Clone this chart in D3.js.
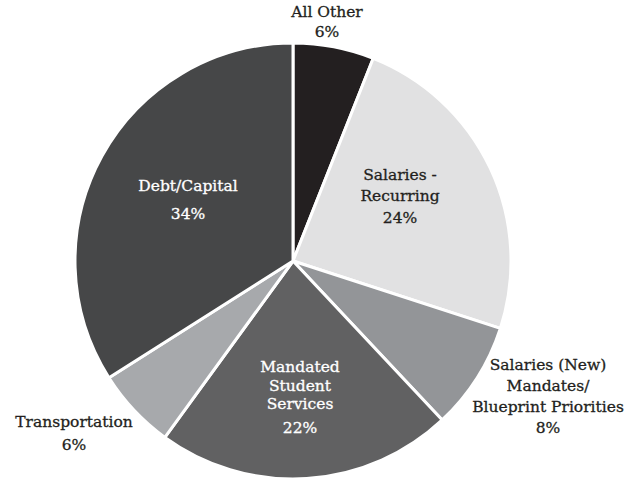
<!DOCTYPE html>
<html>
<head>
<meta charset="utf-8">
<script src="https://cdn.jsdelivr.net/npm/d3@7"></script>
<style>
  body { margin: 0; background: #fff; }
  svg { display: block; }
  text { font-family: "DejaVu Serif", "Liberation Serif", serif; font-size: 15.5px; }
</style>
</head>
<body>
<svg id="chart" width="641" height="478"></svg>
<script>
// slices clockwise from 12 o'clock
var categories = ["All Other", "Salaries - Recurring", "Salaries (New) Mandates/ Blueprint Priorities",
                  "Mandated Student Services", "Transportation", "Debt/Capital"];
var values = [6, 24, 8, 22, 6, 34];
var labelLines = [
    ["All Other", "6%"],
    ["Salaries -", "Recurring", "24%"],
    ["Salaries (New)", "Mandates/", "Blueprint Priorities", "8%"],
    ["Mandated", "Student", "Services", "22%"],
    ["Transportation", "6%"],
    ["Debt/Capital", "34%"]
];

var fills = ["#231f20", "#e1e1e2", "#939598", "#616162", "#a7a9ac", "#464748"];
var textFill = ["#231f20", "#231f20", "#231f20", "#ffffff", "#231f20", "#ffffff"];
// label anchor (first line baseline) relative to pie centre, and line gaps
var labelAt = [
    { x: 34, y: -244, gap: [20] },
    { x: 107, y: -81, gap: [21, 22] },
    { x: 255, y: 109, gap: [21, 21, 21] },
    { x: 7, y: 111, gap: [19, 18, 24] },
    { x: -219, y: 166, gap: [23] },
    { x: -105, y: -70, gap: [28] }
];

var cx = 293, cy = 261, radius = 218;

var svg = d3.select("#chart");
var g = svg.append("g").attr("transform", "translate(" + cx + "," + cy + ")");

var pie = d3.pie().sort(null).value(d => d);
var arc = d3.arc().innerRadius(0).outerRadius(radius);

var arcs = pie(values);

g.selectAll("path")
    .data(arcs)
    .enter()
    .append("path")
    .attr("d", arc)
    .attr("fill", (d, i) => fills[i])
    .attr("stroke", "#ffffff")
    .attr("stroke-width", 3)
    .attr("stroke-linejoin", "round");

var labels = g.selectAll("text.lbl")
    .data(arcs)
    .enter()
    .append("text")
    .attr("class", "lbl")
    .attr("text-anchor", "middle")
    .attr("fill", (d, i) => textFill[i])
    .attr("stroke", (d, i) => textFill[i])
    .attr("stroke-width", 0.3)
    .attr("x", (d, i) => labelAt[i].x)
    .attr("y", (d, i) => labelAt[i].y);

labels.each(function (d, i) {
    var t = d3.select(this);
    labelLines[i].forEach(function (line, j) {
        t.append("tspan")
            .attr("x", labelAt[i].x)
            .attr("dy", j === 0 ? 0 : labelAt[i].gap[j - 1])
            .text(line);
    });
});
</script>
</body>
</html>
